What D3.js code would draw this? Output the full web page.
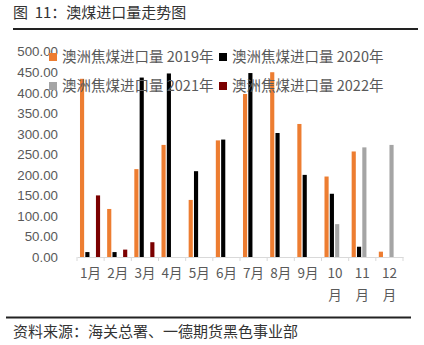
<!DOCTYPE html>
<html><head><meta charset="utf-8">
<script src="https://cdn.jsdelivr.net/npm/d3@7"></script>
<style>
html,body{margin:0;padding:0;background:#fff;}
svg{display:block;}
</style></head>
<body>
<script>
const months = ["1月","2月","3月","4月","5月","6月","7月","8月","9月","10月","11月","12月"];
const years = ["2019","2020","2021","2022"];
const seriesNames = ["澳洲焦煤进口量 2019年","澳洲焦煤进口量 2020年","澳洲焦煤进口量 2021年","澳洲焦煤进口量 2022年"];
const v2019 = [434, 117, 214, 273, 139, 284, 397, 450, 324, 196, 257, 13];
const v2020 = [12, 12, 437, 447, 209, 286, 448, 302, 200, 154, 25, null];
const v2021 = [null, null, null, null, null, null, null, null, null, 80, 267, 273];
const v2022 = [150, 18, 36, null, null, null, null, null, null, null, null, null];
const yTicks = [0, 50, 100, 150, 200, 250, 300, 350, 400, 450, 500];
const colors = ["#ED7D31", "#000000", "#A5A5A5", "#7B0000"];
const title = "图\u00a0\u00a011：澳煤进口量走势图";
const source = "资料来源：海关总署、一德期货黑色事业部";

const allSeries = [v2019, v2020, v2021, v2022];
const W = 424, H = 345;
const font = "'Liberation Sans','Noto Sans CJK SC',sans-serif";
const cjk = "'Noto Sans CJK SC','Liberation Sans',sans-serif";

const svg = d3.select("body").append("svg").attr("width", W).attr("height", H);

// title
svg.append("text").attr("x", 13).attr("y", 18).attr("font-family", cjk)
  .attr("font-size", 15).attr("fill", "#333").text(title);
svg.append("line").attr("x1", 13).attr("x2", 418).attr("y1", 29).attr("y2", 29)
  .attr("stroke", "#222").attr("stroke-width", 2);

// scales
const x0 = d3.scaleBand().domain(months).range([77, 403]).paddingInner(0).paddingOuter(0);
const bw = x0.bandwidth();
const x1 = d3.scaleBand().domain(years).range([bw * 0.11, bw * 0.85]).paddingInner(0.22);
const y = d3.scaleLinear().domain([0, 500]).range([257, 51.7]);

// y axis labels
const yAxis = d3.axisLeft(y).tickValues(yTicks).tickSize(0).tickPadding(0)
  .tickFormat(d3.format(".2f"));
const ga = svg.append("g").attr("transform", "translate(58,0)").call(yAxis);
ga.select(".domain").remove();
ga.selectAll("text").attr("font-family", font).attr("font-size", 13.3).attr("fill", "#595959");

// bars
const data = [];
months.forEach((m, i) => {
  years.forEach((yr, j) => {
    const v = allSeries[j][i];
    if (v != null) data.push({m, yr, v, c: colors[j]});
  });
});
svg.append("g").selectAll("rect").data(data).join("rect")
  .attr("x", d => x0(d.m) + x1(d.yr))
  .attr("width", x1.bandwidth())
  .attr("y", d => y(d.v))
  .attr("height", d => y(0) - y(d.v))
  .attr("fill", d => d.c);

// x axis
const xAxis = d3.axisBottom(x0).tickSize(0).tickFormat("");
const gx = svg.append("g").attr("transform", `translate(0,${y(0)})`).call(xAxis);
gx.select(".domain").attr("stroke", "#d9d9d9");
const bounds = months.map(m => x0(m)).concat([x0.range()[1]]);
svg.append("g").selectAll("line").data(bounds).join("line")
  .attr("x1", d => d).attr("x2", d => d)
  .attr("y1", y(0)).attr("y2", y(0) + 4)
  .attr("stroke", "#d9d9d9");

// x labels (wrap when too wide)
const lab = svg.append("g").attr("font-family", cjk).attr("font-size", 13.5)
  .attr("fill", "#595959").attr("text-anchor", "middle");
months.forEach(m => {
  const cx = x0(m) + bw / 2;
  const t = lab.append("text").attr("x", cx).attr("y", 278);
  if (m.length > 2) {
    t.append("tspan").attr("x", cx).attr("y", 278).text(m.slice(0, m.length - 1));
    t.append("tspan").attr("x", cx).attr("y", 300).text(m.slice(-1));
  } else {
    t.text(m);
  }
});

// legend
const legPos = [[49, 57], [219, 57], [49, 86], [219, 86]];
seriesNames.forEach((n, i) => {
  const g = svg.append("g").attr("transform", `translate(${legPos[i][0]},${legPos[i][1]})`);
  g.append("rect").attr("x", 0).attr("y", -4).attr("width", 8).attr("height", 8).attr("fill", colors[i]);
  g.append("text").attr("x", 13).attr("y", 0).attr("dy", "0.36em")
    .attr("font-family", cjk).attr("font-size", 14.5).attr("fill", "#595959").text(n);
});

// bottom
svg.append("line").attr("x1", 6).attr("x2", 411).attr("y1", 317.5).attr("y2", 317.5)
  .attr("stroke", "#222").attr("stroke-width", 2);
svg.append("text").attr("x", 13).attr("y", 337).attr("font-family", cjk)
  .attr("font-size", 15).attr("fill", "#333").text(source);
</script>
</body></html>
